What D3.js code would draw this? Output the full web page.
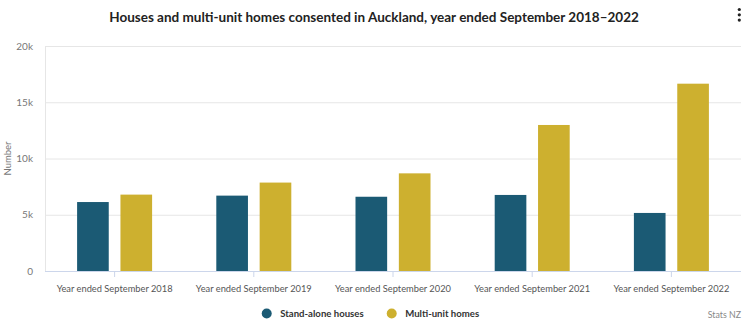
<!DOCTYPE html>
<html>
<head>
<meta charset="utf-8">
<script src="https://cdn.jsdelivr.net/npm/d3@7"></script>
<style>
  html, body { margin: 0; padding: 0; background: #fff; }
  svg { display: block; font-family: Lato, "Open Sans", sans-serif; }
</style>
</head>
<body>
<svg id="chart" width="750" height="331"></svg>
<script>
// Building consents, Auckland, year ended September
const categories = [
  "Year ended September 2018",
  "Year ended September 2019",
  "Year ended September 2020",
  "Year ended September 2021",
  "Year ended September 2022"
];
const seriesNames = ["Stand-alone houses", "Multi-unit homes"];
const standAlone = [6130, 6700, 6600, 6760, 5160];
const multiUnit = [6790, 7860, 8680, 12980, 16650];
const yTicks = [0, 5000, 10000, 15000, 20000];
const yTickLabels = ["0", "5k", "10k", "15k", "20k"];
const colors = ["#1b5a74", "#cdb02f"];

const svg = d3.select("#chart");
const margin = { left: 45, right: 9, top: 46, bottom: 60 };
const W = 750, H = 331;

const x = d3.scaleBand().domain(categories).range([margin.left, W - margin.right]);
const y = d3.scaleLinear().domain([0, 20000]).range([H - margin.bottom, margin.top]);
const inner = d3.scaleBand().domain(seriesNames).range([0, 75]).paddingInner(0.27);

// Title
svg.append("text")
  .attr("x", 374).attr("y", 22)
  .attr("text-anchor", "middle")
  .attr("font-size", 13.5).attr("font-weight", 700).attr("fill", "#222")
  .text("Houses and multi-unit homes consented in Auckland, year ended September 2018\u20132022");

// Context menu dots
svg.append("g").selectAll("circle").data([9.5, 14.8, 20.1]).join("circle")
  .attr("cx", 739.3).attr("cy", d => d).attr("r", 1.6).attr("fill", "#222");

// Grid lines
svg.append("g").selectAll("line").data(yTicks.slice(1)).join("line")
  .attr("x1", margin.left).attr("x2", W - margin.right)
  .attr("y1", d => y(d) + 0.5).attr("y2", d => y(d) + 0.5)
  .attr("stroke", "#e6e6e6").attr("stroke-width", 1);

// Left axis line
svg.append("line")
  .attr("x1", margin.left + 0.5).attr("x2", margin.left + 0.5)
  .attr("y1", y(20000)).attr("y2", y(0))
  .attr("stroke", "#e6e6e6");

// Y axis labels
const yAxis = d3.axisLeft(y).tickValues(yTicks)
  .tickFormat((d, i) => yTickLabels[i]).tickSize(0).tickPadding(12);
const gy = svg.append("g").attr("transform", `translate(${margin.left},0)`).call(yAxis);
gy.select(".domain").remove();
gy.selectAll("text").attr("font-size", 10).attr("fill", "#777")
  .attr("font-family", "Lato, 'Open Sans', sans-serif");

// Y axis title
svg.append("text")
  .attr("transform", `translate(11,${(y(0) + y(20000)) / 2}) rotate(-90)`)
  .attr("text-anchor", "middle")
  .attr("font-size", 9.5).attr("fill", "#777")
  .text("Number");

// Bars
const rows = categories.map((c, i) => ({ cat: c, vals: [standAlone[i], multiUnit[i]] }));
const groups = svg.append("g").selectAll("g").data(rows).join("g")
  .attr("transform", d => `translate(${x(d.cat) + x.bandwidth() / 2 - 37.5},0)`);
groups.selectAll("rect")
  .data(d => d.vals.map((v, j) => ({ name: seriesNames[j], v, j })))
  .join("rect")
  .attr("x", d => inner(d.name))
  .attr("width", inner.bandwidth())
  .attr("y", d => y(d.v))
  .attr("height", d => y(0) - y(d.v))
  .attr("fill", d => colors[d.j]);

// X axis
const xAxis = d3.axisBottom(x).tickSize(6).tickPadding(8);
const gx = svg.append("g").attr("transform", `translate(0,${y(0)})`).call(xAxis);
gx.select(".domain").attr("stroke", "#ccd6eb").attr("d", `M${margin.left},0.5H${W - margin.right}`);
gx.selectAll(".tick line").attr("stroke", "#ccd6eb");
gx.selectAll("text").attr("font-size", 9.3).attr("fill", "#555")
  .attr("font-family", "Lato, 'Open Sans', sans-serif");

// Legend
const legend = svg.append("g");
const legendPos = [266.7, 391.7];
seriesNames.forEach((n, i) => {
  legend.append("circle").attr("cx", legendPos[i]).attr("cy", 313.5).attr("r", 5).attr("fill", colors[i]);
  legend.append("text").attr("x", legendPos[i] + 13.5).attr("y", 317)
    .attr("font-size", 9.6).attr("font-weight", 700).attr("fill", "#333").text(n);
});

// Credit
svg.append("text").attr("x", 741).attr("y", 318).attr("text-anchor", "end")
  .attr("font-size", 8.8).attr("fill", "#888").text("Stats NZ");
</script>
</body>
</html>
